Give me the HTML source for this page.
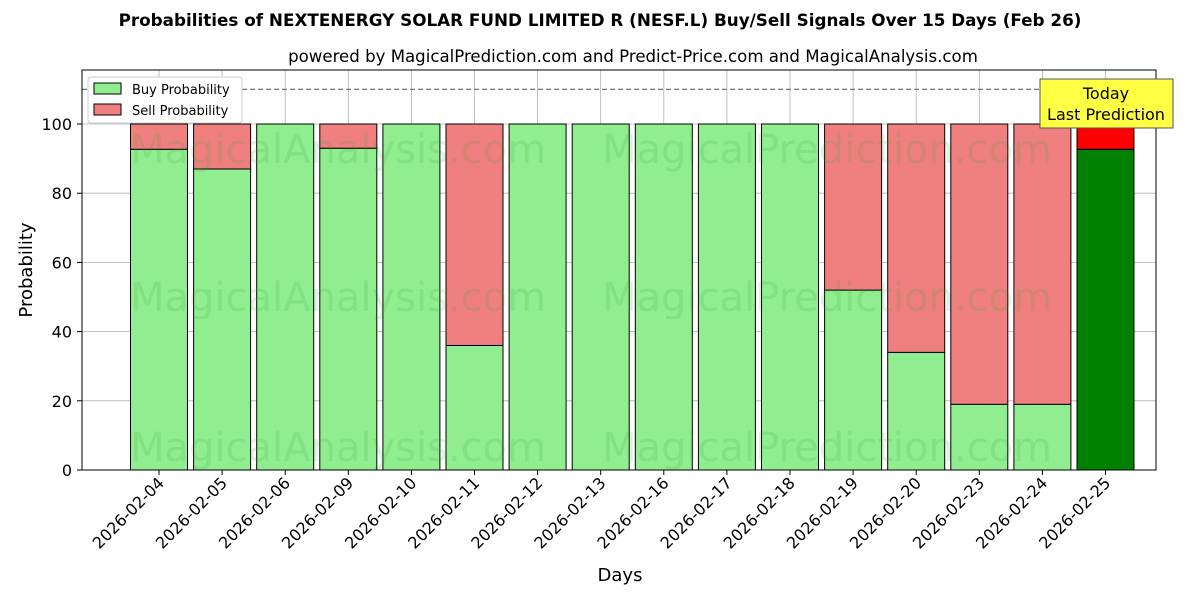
<!DOCTYPE html>
<html><head><meta charset="utf-8"><style>
body{margin:0;background:#fff;font-family:"DejaVu Sans","Liberation Sans",sans-serif;}
svg text{font-family:"DejaVu Sans","Liberation Sans",sans-serif;}
</style></head><body>
<svg id="c" width="1200" height="600" xmlns="http://www.w3.org/2000/svg">
<text x="600" y="26" text-anchor="middle" font-size="16.8" font-weight="bold">Probabilities of NEXTENERGY SOLAR FUND LIMITED R (NESF.L) Buy/Sell Signals Over 15 Days (Feb 26)</text>
<text x="633" y="62" text-anchor="middle" font-size="16.6">powered by MagicalPrediction.com and Predict-Price.com and MagicalAnalysis.com</text>
<g id="grid"></g>
<g id="bars"></g>
<g font-size="40" fill="#2ca02c" fill-opacity="0.15">
<text x="130" y="163">MagicalAnalysis.com</text><text x="602" y="163">MagicalPrediction.com</text>
<text x="130" y="311">MagicalAnalysis.com</text><text x="602" y="311">MagicalPrediction.com</text>
<text x="130" y="461">MagicalAnalysis.com</text><text x="602" y="461">MagicalPrediction.com</text>
</g>
<line x1="82" x2="1156" y1="89.4" y2="89.4" stroke="#777" stroke-dasharray="5,3" stroke-width="1.2"/>
<rect x="82" y="70" width="1074" height="400" fill="none" stroke="#000" stroke-width="1"/>
<g id="ticks"></g>
<text x="620" y="581" text-anchor="middle" font-size="18">Days</text>
<text transform="translate(32,270) rotate(-90)" text-anchor="middle" font-size="18">Probability</text>
<g>
<rect x="88" y="77" width="154" height="46" fill="#fff" stroke="#ccc" rx="3"/>
<rect x="94" y="83" width="27" height="11" fill="#90ee90" stroke="#000"/>
<text x="132" y="94" font-size="13">Buy Probability</text>
<rect x="94" y="104" width="27" height="11" fill="#f08080" stroke="#000"/>
<text x="132" y="115" font-size="13">Sell Probability</text>
</g>
<g>
<rect x="1040" y="79" width="133" height="49" fill="#ffff44" stroke="#555"/>
<text x="1106" y="99" text-anchor="middle" font-size="16">Today</text>
<text x="1106" y="120" text-anchor="middle" font-size="16">Last Prediction</text>
</g>
</svg>
<script>
const days=["2026-02-04","2026-02-05","2026-02-06","2026-02-09","2026-02-10","2026-02-11","2026-02-12","2026-02-13","2026-02-16","2026-02-17","2026-02-18","2026-02-19","2026-02-20","2026-02-23","2026-02-24","2026-02-25"];
const buy=[92.7,87,100,93,100,36,100,100,100,100,100,52,34,19,19,92.7];
const sell=[7.3,13,0,7,0,64,0,0,0,0,0,48,66,81,81,7.3];
const yTicks=[0,20,40,60,80,100];
const NS="http://www.w3.org/2000/svg";
const y=v=>470-v*3.46;
const x=i=>159+i*63.1;
const bw=57;
function mk(t,a,p){const e=document.createElementNS(NS,t);for(const k in a)e.setAttribute(k,a[k]);p.appendChild(e);return e;}
const G=document.getElementById('grid'),B=document.getElementById('bars'),T=document.getElementById('ticks');
yTicks.forEach(v=>{
 const l=mk('line',{x1:82,x2:1156,y1:y(v),y2:y(v),stroke:'#b0b0b0','stroke-width':0.8},G);
 
 
 mk('line',{x1:77,x2:82,y1:y(v),y2:y(v),stroke:'#000'},T);
 const t=mk('text',{x:72,y:y(v)+6,'text-anchor':'end','font-size':16},T);t.textContent=v;
 
 
});
days.forEach((d,i)=>{
 const l=mk('line',{x1:x(i),x2:x(i),y1:70,y2:470,stroke:'#b0b0b0','stroke-width':0.8},G);
 
 
 const last=i===days.length-1;
 const b=mk('rect',{x:x(i)-bw/2,y:y(buy[i]),width:bw,height:y(0)-y(buy[i]),fill:last?'#008000':'#90ee90',stroke:'#000','stroke-width':1},B);
 
 
 if(sell[i]>0){const s=mk('rect',{x:x(i)-bw/2,y:y(buy[i]+sell[i]),width:bw,height:y(buy[i])-y(buy[i]+sell[i]),fill:last?'#ff0000':'#f08080',stroke:'#000','stroke-width':1},B);
 
 }
 mk('line',{x1:x(i),x2:x(i),y1:470,y2:475,stroke:'#000'},T);
 const t=mk('text',{'text-anchor':'end','font-size':16,transform:`translate(${x(i)+6},484) rotate(-45)`},T);t.textContent=d;
 
 
});
</script>
</body></html>
